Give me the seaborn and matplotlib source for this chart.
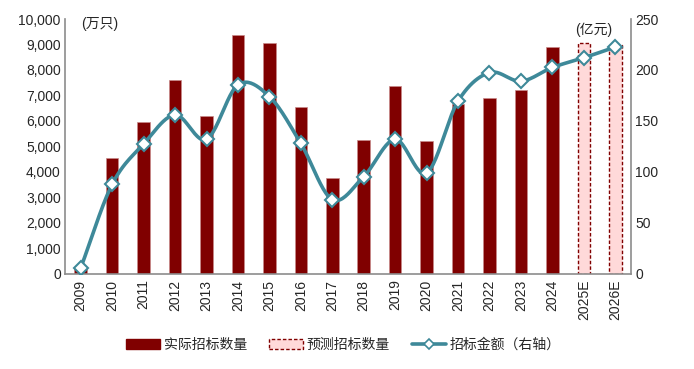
import numpy as np
import matplotlib
matplotlib.use("Agg")
import matplotlib.pyplot as plt
import pandas as pd
import seaborn as sns
from matplotlib.patches import Patch
from matplotlib.lines import Line2D
from matplotlib.ticker import FuncFormatter

years = ["2009", "2010", "2011", "2012", "2013", "2014", "2015", "2016", "2017",
         "2018", "2019", "2020", "2021", "2022", "2023", "2024", "2025E", "2026E"]
actual_qty = [250, 4550, 5960, 7600, 6200, 9380, 9070, 6550, 3750,
              5260, 7360, 5200, 6650, 6900, 7200, 8900]
forecast_qty = [9050, 8980]
amount = [6, 88, 127.5, 156, 132, 185.5, 174, 128, 73,
          95.5, 132, 99, 169.5, 197.5, 189, 202.5, 212, 222.5]

dark_red = "#800000"
pink = "#FFD9D9"
teal = "#3E8999"
grey = "#8C8C8C"

sns.set_style("white")
plt.rcParams["font.family"] = ["Liberation Sans", "Noto Sans CJK SC"]

kind = ["实际"] * len(actual_qty) + ["预测"] * len(forecast_qty)
df = pd.DataFrame({"year": years, "qty": actual_qty + forecast_qty, "kind": kind})


def catmull_rom(xs, ys, n=24):
    xs = np.asarray(xs, float)
    ys = np.asarray(ys, float)
    px = np.concatenate([[2 * xs[0] - xs[1]], xs, [2 * xs[-1] - xs[-2]]])
    py = np.concatenate([[2 * ys[0] - ys[1]], ys, [2 * ys[-1] - ys[-2]]])
    t = np.linspace(0, 1, n, endpoint=False)
    out_x, out_y = [], []
    for i in range(1, len(px) - 2):
        for p, o in ((px, out_x), (py, out_y)):
            p0, p1, p2, p3 = p[i - 1], p[i], p[i + 1], p[i + 2]
            o.extend(0.5 * (2 * p1 + (-p0 + p2) * t
                            + (2 * p0 - 5 * p1 + 4 * p2 - p3) * t ** 2
                            + (-p0 + 3 * p1 - 3 * p2 + p3) * t ** 3))
    out_x.append(xs[-1])
    out_y.append(ys[-1])
    return np.array(out_x), np.array(out_y)


fig = plt.figure(figsize=(6.94, 3.69), dpi=100)
ax = fig.add_axes([0.0937, 0.2575, 0.8155, 0.691])

sns.barplot(data=df, x="year", y="qty", hue="kind", hue_order=["实际", "预测"],
            palette=[dark_red, pink], saturation=1, dodge=False, width=0.4,
            errorbar=None, legend=False, ax=ax)
for bar in ax.containers[0]:
    bar.set_edgecolor("#C98A8A")
    bar.set_linewidth(0.5)
for bar in ax.containers[1]:
    bar.set_edgecolor(dark_red)
    bar.set_linestyle((0, (2.5, 1.5)))
    bar.set_linewidth(1.0)

ax.set_xlim(-0.5, len(years) - 0.5)
ax.set_ylim(0, 10000)
ax.set_yticks(np.arange(0, 10001, 1000))
ax.yaxis.set_major_formatter(FuncFormatter(lambda v, p: f"{int(v):,}"))
ax.set_xlabel("")
ax.set_ylabel("")
ax.set_xticks(range(len(years)))
ax.set_xticklabels(years, rotation=90, fontsize=10)
ax.set_xticks(np.arange(-0.5, len(years), 1), minor=True)
ax.tick_params(axis="x", which="major", length=0, pad=4)
ax.tick_params(axis="x", which="minor", length=4, color=grey, width=1)
ax.tick_params(axis="y", length=0, labelsize=10, pad=3)
for s in ["top", "right"]:
    ax.spines[s].set_visible(False)
for s in ["left", "bottom"]:
    ax.spines[s].set_color(grey)
    ax.spines[s].set_linewidth(1.2)

ax2 = ax.twinx()
sx, sy = catmull_rom(range(len(years)), amount)
ax2.plot(sx, sy, color=teal, lw=2.6, solid_capstyle="round", zorder=3)
ax2.plot(range(len(years)), amount, ls="none", marker="D", ms=7,
         mfc="white", mec=teal, mew=1.5, zorder=4)
ax2.set_ylim(0, 250)
ax2.set_yticks(np.arange(0, 251, 50))
ax2.tick_params(axis="y", length=0, labelsize=10, pad=3)
for s in ["top", "left", "bottom"]:
    ax2.spines[s].set_visible(False)
ax2.spines["right"].set_color(grey)
ax2.spines["right"].set_linewidth(1.2)
ax2.set_xlim(-0.5, len(years) - 0.5)

fig.text(0.117, 0.935, "(万只)", fontsize=10, va="center")
fig.text(0.828, 0.92, "(亿元)", fontsize=10, va="center")

handles = [
    Patch(facecolor=dark_red, edgecolor=dark_red),
    Patch(facecolor=pink, edgecolor=dark_red, linestyle=(0, (2.5, 1.5))),
    Line2D([0], [0], color=teal, lw=2.6, marker="D", ms=5, mfc="white", mec=teal, mew=1.2),
]
fig.legend(handles, ["实际招标数量", "预测招标数量", "招标金额（右轴）"],
           loc="center", bbox_to_anchor=(0.495, 0.065), ncol=3, frameon=False,
           fontsize=10, handlelength=2.4, handleheight=0.7, columnspacing=1.6,
           handletextpad=0.3)

fig.savefig("out.png", dpi=100)
